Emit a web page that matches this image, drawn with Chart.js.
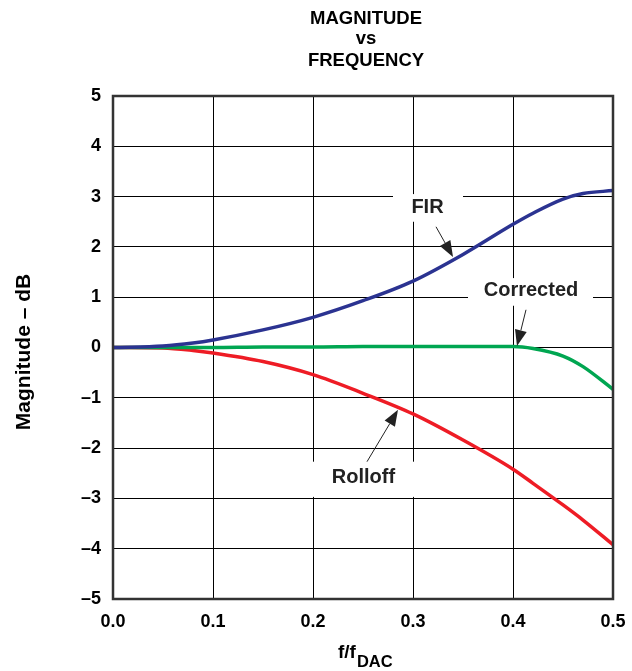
<!DOCTYPE html>
<html lang="en">
<head>
    <meta charset="UTF-8">
    <title>Magnitude vs Frequency</title>
    <script src="https://cdn.jsdelivr.net/npm/chart.js"></script>
    <style>
        * { margin: 0; padding: 0; box-sizing: border-box; }
        body { background: #fff; }
        #chart { display: block; }
    </style>
</head>
<body>
    <canvas id="chart" width="632" height="671"></canvas>

    <script>
        // frequency as fraction of f_DAC
        const freq      = [0, 0.05, 0.08, 0.1, 0.15, 0.2, 0.25, 0.3, 0.35, 0.4, 0.42, 0.45, 0.47, 0.5];
        const fir       = [0, 0.03, 0.09, 0.15, 0.35, 0.6, 0.93, 1.32, 1.85, 2.45, 2.67, 2.95, 3.06, 3.12];
        const corrected = [0, 0, 0, 0, 0.01, 0.01, 0.02, 0.02, 0.02, 0.02, -0.02, -0.17, -0.38, -0.83];
        const rolloff   = [0, -0.01, -0.06, -0.11, -0.28, -0.54, -0.91, -1.32, -1.84, -2.42, -2.70, -3.13, -3.43, -3.92];
        const xTicks = [0, 0.1, 0.2, 0.3, 0.4, 0.5];
        const yTicks = [-5, -4, -3, -2, -1, 0, 1, 2, 3, 4, 5];

        // callout labels: text position, white box, arrow tail -> tip (data units)
        const callouts = [
            { text: 'FIR', at: [0.3145, 2.79], box: [0.28, 0.35, 3.05, 2.5], from: [0.323, 2.40], to: [0.340, 1.80] },
            { text: 'Corrected', at: [0.418, 1.14], box: [0.355, 0.48, 1.38, 0.83], from: [0.413, 0.75], to: [0.404, 0.03] },
            { text: 'Rolloff', at: [0.2505, -2.58], box: [0.195, 0.305, -2.27, -2.97], from: [0.254, -2.27], to: [0.285, -1.24] }
        ];

        const FONT = '"Liberation Sans", Arial, sans-serif';
        const pts = ys => freq.map((f, i) => ({ x: f, y: ys[i] }));
        const minus = v => String(v).replace('-', '\u2013');

        const decor = {
            id: 'decor',
            beforeDatasetsDraw(chart) {
                const { ctx, scales: { x, y } } = chart;
                ctx.save();
                ctx.fillStyle = '#fff';
                callouts.forEach(c => {
                    const l = x.getPixelForValue(c.box[0]), r = x.getPixelForValue(c.box[1]);
                    const t = y.getPixelForValue(c.box[2]), b = y.getPixelForValue(c.box[3]);
                    ctx.fillRect(l, t, r - l, b - t);
                });
                ctx.restore();
            },
            afterDatasetsDraw(chart) {
                const { ctx, chartArea: a, scales: { x, y } } = chart;
                ctx.save();
                // frame
                ctx.strokeStyle = '#333';
                ctx.lineWidth = 2.5;
                ctx.strokeRect(a.left, a.top, a.right - a.left, a.bottom - a.top);

                ctx.fillStyle = '#222';
                ctx.textAlign = 'center';
                ctx.textBaseline = 'middle';
                ctx.font = 'bold 20px ' + FONT;
                callouts.forEach(c => {
                    ctx.fillText(c.text, x.getPixelForValue(c.at[0]), y.getPixelForValue(c.at[1]));
                    const x0 = x.getPixelForValue(c.from[0]), y0 = y.getPixelForValue(c.from[1]);
                    const x1 = x.getPixelForValue(c.to[0]), y1 = y.getPixelForValue(c.to[1]);
                    const ang = Math.atan2(y1 - y0, x1 - x0);
                    const hl = 16, hw = 6;
                    const bx = x1 - hl * Math.cos(ang), by = y1 - hl * Math.sin(ang);
                    ctx.strokeStyle = '#222';
                    ctx.lineWidth = 1;
                    ctx.beginPath();
                    ctx.moveTo(x0, y0);
                    ctx.lineTo(bx, by);
                    ctx.stroke();
                    ctx.beginPath();
                    ctx.moveTo(x1, y1);
                    ctx.lineTo(bx + hw * Math.sin(ang), by - hw * Math.cos(ang));
                    ctx.lineTo(bx - hw * Math.sin(ang), by + hw * Math.cos(ang));
                    ctx.closePath();
                    ctx.fill();
                });

                // title
                const cx = 366;
                ctx.fillStyle = '#000';
                ctx.textBaseline = 'alphabetic';
                ctx.font = 'bold 18.5px ' + FONT;
                ctx.fillText('MAGNITUDE', cx, 24);
                ctx.fillText('vs', cx, 44);
                ctx.fillText('FREQUENCY', cx, 66);

                // y axis title
                ctx.font = 'bold 21px ' + FONT;
                ctx.textBaseline = 'middle';
                ctx.save();
                ctx.translate(24, 352);
                ctx.rotate(-Math.PI / 2);
                ctx.fillText('Magnitude \u2013 dB', 0, 0);
                ctx.restore();

                // x axis title with subscript
                ctx.textAlign = 'left';
                ctx.textBaseline = 'alphabetic';
                ctx.font = 'bold 19px ' + FONT;
                ctx.fillText('f/f', 338, 658);
                const mainW = ctx.measureText('f/f').width;
                ctx.font = 'bold 16.5px ' + FONT;
                ctx.fillText('DAC', 338 + mainW + 1, 667);
                ctx.restore();
            }
        };

        const lineDs = (label, ys, color) => ({
            label: label,
            data: pts(ys),
            borderColor: color,
            borderWidth: 3.5,
            pointRadius: 0,
            cubicInterpolationMode: 'monotone',
            fill: false
        });

        new Chart(document.getElementById('chart').getContext('2d'), {
            type: 'line',
            data: {
                datasets: [
                    lineDs('FIR', fir, '#2B3391'),
                    lineDs('Corrected', corrected, '#00A651'),
                    lineDs('Rolloff', rolloff, '#EE1C25')
                ]
            },
            options: {
                responsive: false,
                animation: false,
                layout: { padding: { top: 96, right: 19, left: 0, bottom: 0 } },
                plugins: {
                    legend: { display: false },
                    tooltip: { enabled: false }
                },
                scales: {
                    x: {
                        type: 'linear',
                        min: 0,
                        max: 0.5,
                        afterFit: s => { s.height = 72; s.paddingLeft = 0; s.paddingRight = 0; },
                        afterBuildTicks: s => { s.ticks = xTicks.map(v => ({ value: v })); },
                        grid: { color: '#000', lineWidth: 1, drawTicks: false },
                        border: { display: false },
                        ticks: {
                            padding: 12,
                            color: '#000',
                            font: { family: FONT, size: 18, weight: 'bold' },
                            callback: v => v.toFixed(1)
                        }
                    },
                    y: {
                        min: -5,
                        max: 5,
                        afterFit: s => { s.width = 113; },
                        afterBuildTicks: s => { s.ticks = yTicks.map(v => ({ value: v })); },
                        grid: { color: '#000', lineWidth: 1, drawTicks: false },
                        border: { display: false },
                        ticks: {
                            padding: 12,
                            color: '#000',
                            font: { family: FONT, size: 18, weight: 'bold' },
                            callback: v => minus(v)
                        }
                    }
                }
            },
            plugins: [decor]
        });
    </script>
</body>
</html>
